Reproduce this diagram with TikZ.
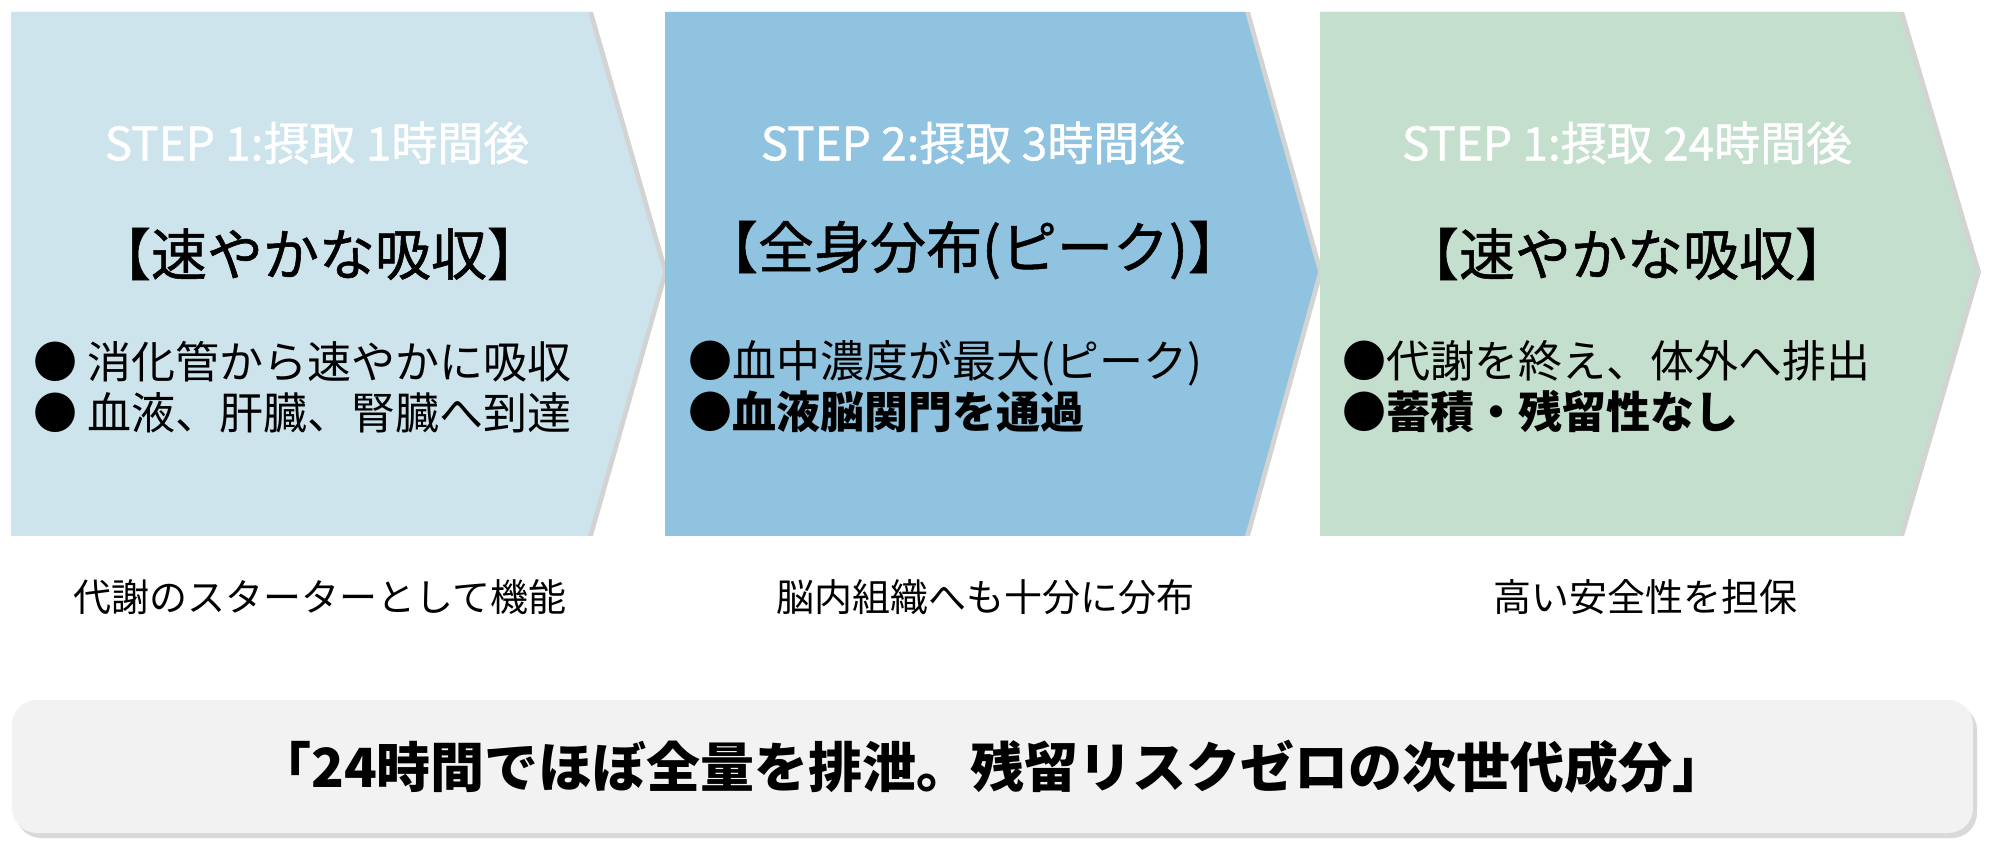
\documentclass[tikz,border=0pt]{standalone}
\usepackage{fontspec}
\setmainfont{Noto Sans CJK JP}
\usetikzlibrary{shadows}
\definecolor{stepone}{RGB}{205,228,236}
\definecolor{steptwo}{RGB}{143,195,223}
\definecolor{stepthree}{RGB}{197,223,206}
\definecolor{notebg}{RGB}{242,242,242}
\begin{document}
\begin{tikzpicture}[x=0.5pt,y=-0.5pt,
  every node/.style={inner sep=0pt},
  panel/.style={drop shadow={shadow xshift=2.5pt,shadow yshift=0pt,opacity=.35}},
  steplabel/.style={text=white,font=\fontsize{23}{26}\selectfont\addfontfeature{FakeBold=1}},
  headline/.style={font=\fontsize{28}{31}\selectfont\addfontfeature{FakeBold=1}},
  points/.style={align=left,anchor=west,font=\fontsize{22}{25.5}\selectfont},
  remark/.style={font=\fontsize{19}{22}\selectfont}]
\useasboundingbox (0,0) rectangle (1993,855);
% the three chevrons
\fill[stepone,panel] (11,12) -- (588,12) -- (663,272) -- (588,536) -- (11,536) -- cycle;
\fill[steptwo,panel] (665,12) -- (1245,12) -- (1318,272) -- (1245,536) -- (665,536) -- cycle;
\fill[stepthree,panel] (1320,12) -- (1899,12) -- (1976,272) -- (1899,536) -- (1320,536) -- cycle;
% step 1
\node[steplabel] (s1) at (317,143) {STEP 1:摂取 1時間後};
\node[headline] (h1) at (319,254) {【速やかな吸収】};
\node[points] (p1) at (33,387) {● 消化管から速やかに吸収\\● 血液、肝臓、腎臓へ到達};
\node[remark] (r1) at (320,597) {代謝のスターターとして機能};
% step 2
\node[steplabel] (s2) at (973,143) {STEP 2:摂取 3時間後};
\node[headline] (h2) at (973,250) {【全身分布(ピーク)】};
\node[points] (p2) at (688,387) {●血中濃度が最大(ピーク)\\{\bfseries ●血液脳関門を通過}};
\node[remark] (r2) at (985,597) {脳内組織へも十分に分布};
% step 3
\node[steplabel] (s3) at (1627,143) {STEP 1:摂取 24時間後};
\node[headline] (h3) at (1627,254) {【速やかな吸収】};
\node[points] (p3) at (1342,387) {●代謝を終え、体外へ排出\\{\bfseries ●蓄積・残留性なし}};
\node[remark] (r3) at (1645,597) {高い安全性を担保};
% summary
\fill[notebg,rounded corners=12.5pt,drop shadow={shadow xshift=2pt,shadow yshift=-2.5pt,opacity=.3}]
  (12,700) rectangle (1973,833);
\node[font=\bfseries\fontsize{27}{30}\selectfont] (msg) at (992,767)
  {「24時間でほぼ全量を排泄。残留リスクゼロの次世代成分」};
\end{tikzpicture}
\end{document}
